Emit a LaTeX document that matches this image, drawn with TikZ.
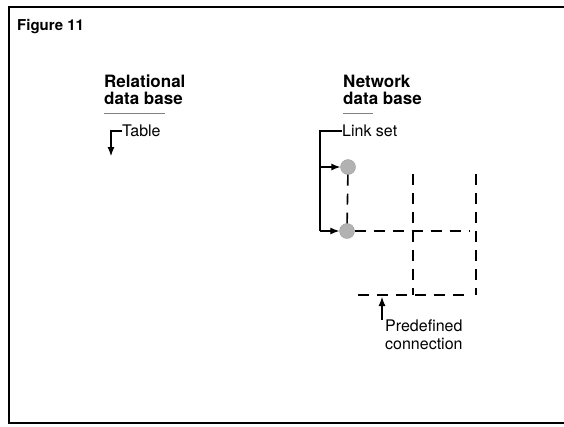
\documentclass[tikz,border=0pt]{standalone}
\usepackage{fontspec}
\setmainfont{TeX Gyre Heros}
\usetikzlibrary{arrows.meta}

\tikzset{
  head/.style={anchor=north west, align=left, inner sep=0pt, font=\bfseries\fontsize{17}{16.5}\selectfont},
  lbl/.style={anchor=west, inner sep=0pt, font=\fontsize{16}{16}\selectfont},
  dot/.style={circle, fill=gray!60, draw=gray!75, minimum size=15pt, inner sep=0pt},
  link/.style={-{Latex[length=9pt,width=7pt]}, line width=1.1pt},
  conn/.style={dash pattern=on 11pt off 8pt, line width=1.6pt}
}

\begin{document}
\begin{tikzpicture}[x=1pt,y=-1pt]
                \useasboundingbox (0,0) rectangle (564,426);
                
                % frame, open on the right
                \draw[line width=1.3pt] (564,7) -- (9,7) -- (9,423) -- (564,423);
                \node[anchor=west, inner sep=0pt, font=\bfseries\fontsize{15}{15}\selectfont] (fig) at (17,27) {Figure 11};
                
                % relational side
                \node[head] (rel) at (104,75) {Relational\\data base};
                \draw[gray, line width=1pt] (104,113) -- (165,113);
                \node[lbl] (table) at (122,131) {Table};
                \coordinate (tabdown) at (111,156);
                \draw[link] (table.west) -| (tabdown);
                
                % network side
                \node[head] (net) at (343,75) {Network\\data base};
                \draw[gray, line width=1pt] (343,113) -- (373,113);
                \node[lbl] (linkset) at (342,131) {Link set};
                
                \node[dot] (c1) at (348,167) {};
                \node[dot] (c2) at (347,231) {};
                
                \coordinate (lv1) at (320,167);
                \coordinate (lv2) at (320,231);
                \draw[line width=1.1pt] (linkset.west) -| (lv2);
                \draw[link] (lv1) -- (c1);
                \draw[link] (lv2) -- (c2);
                
                \coordinate (g1) at (413,174);
                \coordinate (g2) at (476,174);
                \coordinate (r2) at (470,231);
                \coordinate (b0) at (358,295);
                \coordinate (b1) at (413,295);
                \coordinate (b2) at (470,295);
                \coordinate (b3) at (476,295);
                
                \draw[conn] (c1) -- (c2);
                \draw[conn] (c2) -- (r2);
                \draw[conn] (g1) -- (b1);
                \draw[conn] (g2) -- (b3);
                \draw[conn] (b0) -- (b2);
                
                \node[anchor=north west, align=left, inner sep=0pt, font=\fontsize{16}{18}\selectfont] (pre) at (385,320) {Predefined\\connection};
                \coordinate (prearr) at (382,297);
                \draw[link] (prearr |- pre.north) -- (prearr);
            \end{tikzpicture}
\end{document}
